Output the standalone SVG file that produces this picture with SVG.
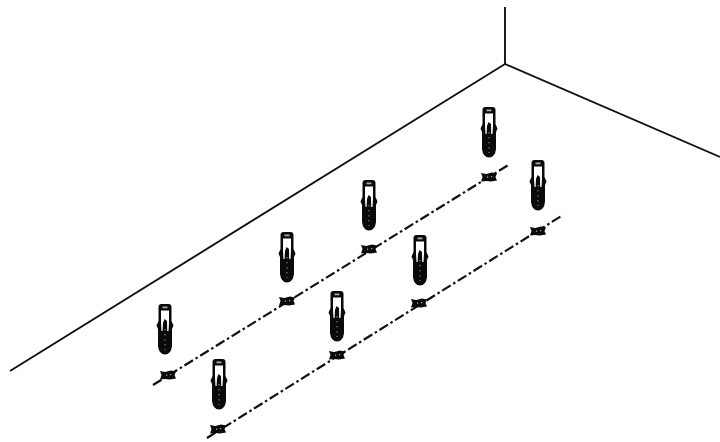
<svg xmlns="http://www.w3.org/2000/svg" width="720" height="442" viewBox="0 0 720 442">
<style>
.wall{fill:none;stroke:#111;stroke-width:1.9}
.axis{fill:none;stroke:#111;stroke-width:2.200;stroke-dasharray:10 3 2.500 3}
.b{fill:#0a0a0a}
.w{fill:#fff}
.g{fill:#aaa}
.d{fill:none;stroke:#777;stroke-width:1.200;stroke-dasharray:1.500 3.500}
</style>
<defs>
<g id="anchor">
<path class="b" d="M-3.500 0H3.500Q6.500 0 6.500 3V17L8.500 21.500L7 25V42Q6 50.500 0 50.500Q-6 50.500 -7 42V25L-8.500 21.500L-6.500 17V3Q-6.500 0 -3.500 0Z"/>
<rect class="g" x="-2.500" y="2.500" width="5" height="1.800"/>
<path class="w" d="M-4 6.500H4V19L3.500 27H2.200L2 17L-0.500 15L-2 19L-2.400 27H-3.500L-4 19Z"/>
<path class="d" d="M0 25V46"/>
</g>
<g id="mark">
<path class="b" d="M-8 -4L-3 -3L3 -4.500L8 -3.500L6.500 0L8 3.500L2 4.500L-3 4L-8 4.500L-6.500 0Z"/>
<path class="g" d="M-2 -0.500h1.200v1.200h-1.200zM2 -1h1.200v1.200h-1.200z"/>
</g>
</defs>
<g id="connectors">
<path class="wall" d="M10 371L505 64L720 157M505 64V7"/>
<path class="axis" d="M153 385L510 164"/>
<path class="axis" d="M207 438L563 215"/>
</g>
<g id="anchor1"><use href="#anchor" x="165" y="304"/><use href="#mark" x="168" y="375"/></g>
<g id="anchor2"><use href="#anchor" x="219" y="359"/><use href="#mark" x="218" y="429"/></g>
<g id="anchor3"><use href="#anchor" x="287" y="232"/><use href="#mark" x="287" y="301"/></g>
<g id="anchor4"><use href="#anchor" x="337" y="291"/><use href="#mark" x="337" y="355"/></g>
<g id="anchor5"><use href="#anchor" x="369" y="180"/><use href="#mark" x="369" y="249"/></g>
<g id="anchor6"><use href="#anchor" x="420" y="235"/><use href="#mark" x="419" y="303"/></g>
<g id="anchor7"><use href="#anchor" x="489" y="107"/><use href="#mark" x="489" y="177"/></g>
<g id="anchor8"><use href="#anchor" x="538" y="160"/><use href="#mark" x="538" y="231"/></g>
</svg>
